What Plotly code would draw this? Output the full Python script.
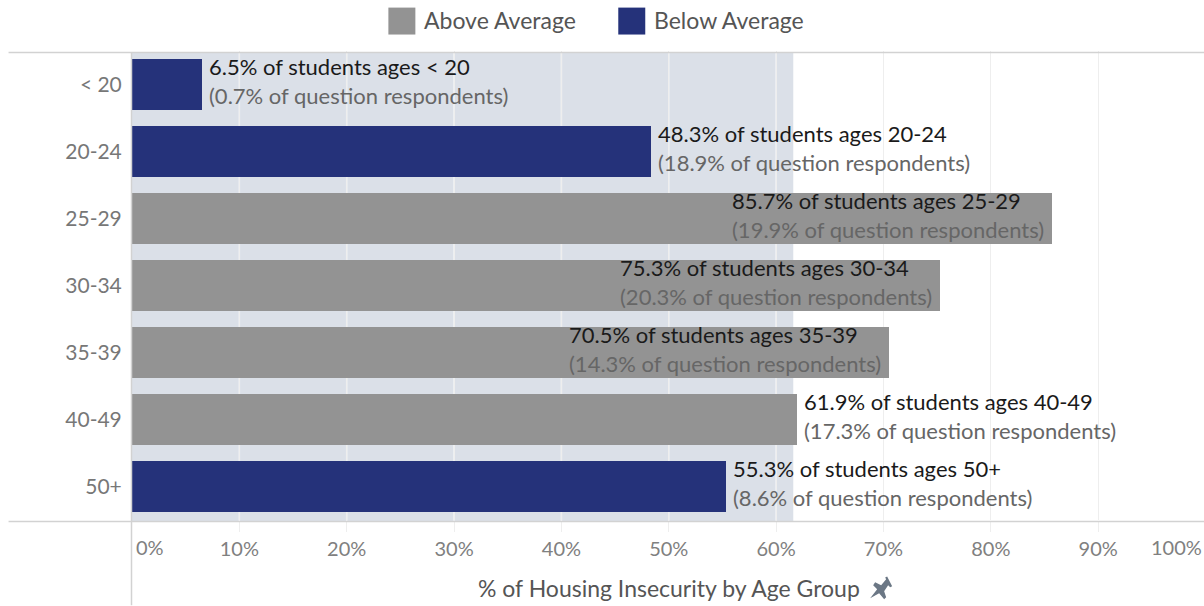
import plotly.graph_objects as go

categories = ["< 20", "20-24", "25-29", "30-34", "35-39", "40-49", "50+"]
pct_students = [6.5, 48.3, 85.7, 75.3, 70.5, 61.9, 55.3]
pct_respondents = [0.7, 18.9, 19.9, 20.3, 14.3, 17.3, 8.6]
group = ["Below", "Below", "Above", "Above", "Above", "Above", "Below"]
label_inside = [False, False, True, True, True, False, False]
average = 61.6
x_ticks = [10, 20, 30, 40, 50, 60, 70, 80, 90]

W, H = 1204, 606
L, R, T, B = 131.5, 0, 50.5, 85.5
NAVY, GRAY, BAND = "#25327a", "#939393", "#dbe0e8"
LINE = "#d2d2d2"
FONT = "Lato, 'Open Sans', sans-serif"
XMAX = (W - L) / 10.74


def px(x):
    return (x - L) / (W - L - R)


def py(y):
    return 1 - (y - T) / (H - T - B)


fig = go.Figure()
for name, key, color in [("Above Average", "Above", GRAY), ("Below Average", "Below", NAVY)]:
    xs = [v if g == key else None for v, g in zip(pct_students, group)]
    fig.add_bar(x=xs, y=categories, orientation="h", name=name, width=0.775,
                marker=dict(color=color, line=dict(width=0)), showlegend=False)

shapes = [dict(type="rect", xref="x", yref="paper", x0=0, x1=average, y0=py(522), y1=py(52),
               fillcolor=BAND, line_width=0, layer="below")]
for t in x_ticks:
    if t < average:
        shapes.append(dict(type="line", xref="x", yref="paper", x0=t, x1=t, y0=py(522), y1=py(52),
                           line=dict(color="#f4f5f7", width=1.5), layer="below"))
for y in (52, 522):
    shapes.append(dict(type="line", xref="paper", yref="paper", layer="above",
                       x0=px(8), x1=1, y0=py(y), y1=py(y), line=dict(color=LINE, width=1.5)))
shapes.append(dict(type="line", xref="paper", yref="paper", layer="above",
                   x0=px(131), x1=px(131), y0=py(52), y1=py(606), line=dict(color=LINE, width=1.5)))
# legend swatches
for x0, c in [(388, GRAY), (618, NAVY)]:
    shapes.append(dict(type="rect", xref="paper", yref="paper", x0=px(x0), x1=px(x0 + 27),
                       y0=py(34), y1=py(7), fillcolor=c, line_width=0))
# pin icon
pin = [(870, 599), (877, 590), (873, 586), (875, 583), (881, 586), (886, 580), (885, 578),
       (887, 577), (892, 587), (890, 588), (888, 586), (884, 592), (886, 598), (884, 600), (879, 594)]
shapes.append(dict(type="path", xref="paper", yref="paper", fillcolor="#6b7785", line_width=0,
                   path="M " + " L ".join(f"{px(a)} {py(b)}" for a, b in pin) + " Z"))

annotations = []
for c, v, r, inside in zip(categories, pct_students, pct_respondents, label_inside):
    text = (f'<span style="color:#1a1a1a">{v}% of students ages {c.replace("<", "&lt;")}</span><br>'
            f'<span style="color:#666666">({r}% of question respondents)</span>')
    annotations.append(dict(x=v, y=c, xref="x", yref="y", text=text, showarrow=False, align="left",
                            xanchor="right" if inside else "left", xshift=-6 if inside else 5,
                            font=dict(size=22, family=FONT), yshift=4))
annotations += [
    dict(x=px(422), y=py(19), text="Above Average", xanchor="left"),
    dict(x=px(652), y=py(19), text="Below Average", xanchor="left"),
    dict(x=px(668.5), y=py(589), text="% of Housing Insecurity by Age Group", xanchor="center"),
]
for a in annotations[-3:]:
    a.update(xref="paper", yref="paper", showarrow=False, yanchor="middle",
             font=dict(size=23, family=FONT, color="#555555"))
annotations += [
    dict(x=px(134), y=py(548), text="0%", xanchor="left", xref="paper", yref="paper", showarrow=False,
         yanchor="middle", font=dict(size=20, family=FONT, color="#808080")),
    dict(x=px(1204), y=py(548), text="100%", xanchor="right", xref="paper", yref="paper", showarrow=False,
         yanchor="middle", font=dict(size=20, family=FONT, color="#808080")),
]

fig.update_layout(
    width=W, height=H, margin=dict(l=L, r=R, t=T, b=B, pad=0),
    paper_bgcolor="white", plot_bgcolor="white", barmode="overlay",
    font=dict(family=FONT, color="#777777"), shapes=shapes, annotations=annotations,
    bargap=0,
    xaxis=dict(range=[0, XMAX], tickvals=x_ticks, ticktext=[f"{t}%" for t in x_ticks],
               showgrid=True, gridcolor="#eeeeee", gridwidth=1, zeroline=False,
               ticks="outside", ticklen=11, tickcolor="#eeeeee", tickwidth=1,
               tickfont=dict(size=20, color="#808080", family=FONT), showline=False),
    yaxis=dict(categoryorder="array", categoryarray=categories, autorange=False,
               range=[len(categories) - .5, -.5], showgrid=False, zeroline=False,
               ticks="outside", ticklen=5, tickcolor="rgba(0,0,0,0)",
               tickfont=dict(size=21, color="#777777", family=FONT), showline=False),
)

fig.write_html("out.html", config={"displayModeBar": False},
               post_script="document.body.style.margin='0';document.body.style.overflow='hidden';")
